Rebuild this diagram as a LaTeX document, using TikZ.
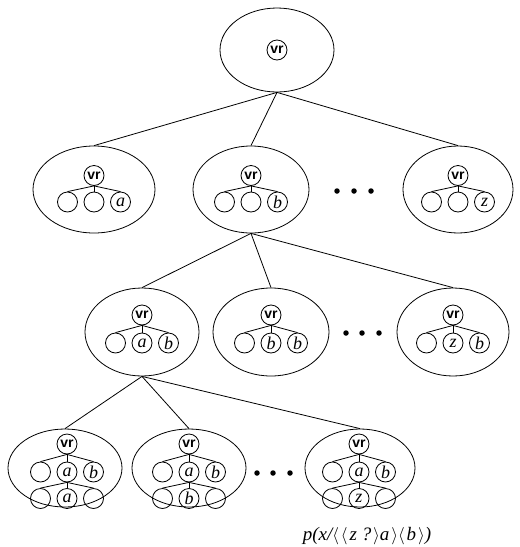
\documentclass[tikz,border=0pt]{standalone}
\usepackage{fontspec}
\setmainfont{Liberation Serif}
\newfontfamily\vrfont{Liberation Sans}
\usetikzlibrary{shapes.geometric}
\tikzset{
  big/.style={draw, ellipse, inner sep=0pt, line width=0.8pt},
  vrnode/.style={draw, circle, inner sep=0pt, minimum size=20pt, line width=0.8pt,
    font=\vrfont\bfseries\fontsize{14}{14}\selectfont},
  kid/.style={draw, circle, inner sep=0pt, minimum size=20pt, line width=0.8pt,
    font=\itshape\fontsize{18}{18}\selectfont},
  link/.style={line width=0.8pt},
  dotnode/.style={fill, circle, inner sep=0pt, minimum size=5.5pt},
  lbl/.style={font=\itshape\fontsize{19}{19}\selectfont, inner sep=0pt},
}
% name, cx, cy, width, height
\newcommand\ellnode[5]{\node[big, minimum width=#4pt, minimum height=#5pt] (#1) at (#2,#3) {};}
% name, cx, y
\newcommand\vrat[3]{\node[vrnode] (#1) at (#2,#3) {vr};}
% name, cx, y, l1, l2, l3
\newcommand\kidrow[6]{%
  \node[kid] (#1-1) at (#2-26.5,#3) {#4};
  \node[kid] (#1-2) at (#2,#3) {#5};
  \node[kid] (#1-3) at (#2+26.5,#3) {#6};}
% from, row
\newcommand\fanout[2]{%
  \draw[link] (#1.south) -- (#2-1.north);
  \draw[link] (#1.south) -- (#2-2.north);
  \draw[link] (#1.south) -- (#2-3.north);}
% name, x1, x2, x3, y
\newcommand\dotrow[5]{%
  \node[dotnode] (#1-1) at (#2,#5) {};
  \node[dotnode] (#1-2) at (#3,#5) {};
  \node[dotnode] (#1-3) at (#4,#5) {};}
\newcommand\lbr{$\langle\mkern2mu$}
\newcommand\rbr{$\mkern2mu\rangle$}
\begin{document}
\begin{tikzpicture}[x=1pt,y=-1pt]
\useasboundingbox (0,0) rectangle (520,547);
% level 1
\ellnode{top}{277}{50}{114}{84}
\vrat{top-vr}{277}{50}
% level 2
\ellnode{n1}{94}{189.5}{122}{87}
\ellnode{n2}{251}{189.5}{116}{87}
\ellnode{n3}{458}{189.5}{110}{87}
\vrat{n1-vr}{94}{175.5}
\kidrow{n1-r}{94}{202}{}{}{a}
\fanout{n1-vr}{n1-r}
\vrat{n2-vr}{251}{175.5}
\kidrow{n2-r}{251}{202}{}{}{b}
\fanout{n2-vr}{n2-r}
\vrat{n3-vr}{458}{175.5}
\kidrow{n3-r}{458}{202}{}{}{z}
\fanout{n3-vr}{n3-r}
\dotrow{d2}{337}{354}{371}{191}
% level 3
\ellnode{m1}{142}{332}{114}{88}
\ellnode{m2}{271}{332}{116}{88}
\ellnode{m3}{453}{332}{112}{88}
\vrat{m1-vr}{142}{315}
\kidrow{m1-r}{142}{343}{}{a}{b}
\fanout{m1-vr}{m1-r}
\vrat{m2-vr}{271}{315}
\kidrow{m2-r}{271}{343}{}{b}{b}
\fanout{m2-vr}{m2-r}
\vrat{m3-vr}{453}{315}
\kidrow{m3-r}{453}{343}{}{z}{b}
\fanout{m3-vr}{m3-r}
\dotrow{d3}{346}{362}{379}{333}
% level 4
\ellnode{k1}{65}{468}{114}{78}
\ellnode{k2}{189}{468}{114}{78}
\ellnode{k3}{360}{468}{110}{78}
\vrat{k1-vr}{67}{444}
\kidrow{k1-r}{67}{472}{}{a}{b}
\kidrow{k1-s}{67}{498.5}{}{a}{}
\fanout{k1-vr}{k1-r}
\fanout{k1-r-2}{k1-s}
\vrat{k2-vr}{189}{444}
\kidrow{k2-r}{189}{472}{}{a}{b}
\kidrow{k2-s}{189}{498.5}{}{b}{}
\fanout{k2-vr}{k2-r}
\fanout{k2-r-2}{k2-s}
\vrat{k3-vr}{359}{444}
\kidrow{k3-r}{359}{472}{}{a}{b}
\kidrow{k3-s}{359}{498.5}{}{z}{}
\fanout{k3-vr}{k3-r}
\fanout{k3-r-2}{k3-s}
\dotrow{d4}{257}{273}{290}{473}
% connectors
\draw[link] (top.south) -- (n1.north);
\draw[link] (top.south) -- (n2.north);
\draw[link] (top.south) -- (n3.north);
\draw[link] (n2.south) -- (m1.north);
\draw[link] (n2.south) -- (m2.north);
\draw[link] (n2.south) -- (m3.north);
\draw[link] (m1.south) -- (k1.north);
\draw[link] (m1.south) -- (k2.north);
\draw[link] (m1.south) -- (k3.north);
% label
\node[lbl] (cap) at (367,536) {p(x/\lbr\lbr z ?\rbr a\rbr\lbr b\rbr)};
\end{tikzpicture}
\end{document}
